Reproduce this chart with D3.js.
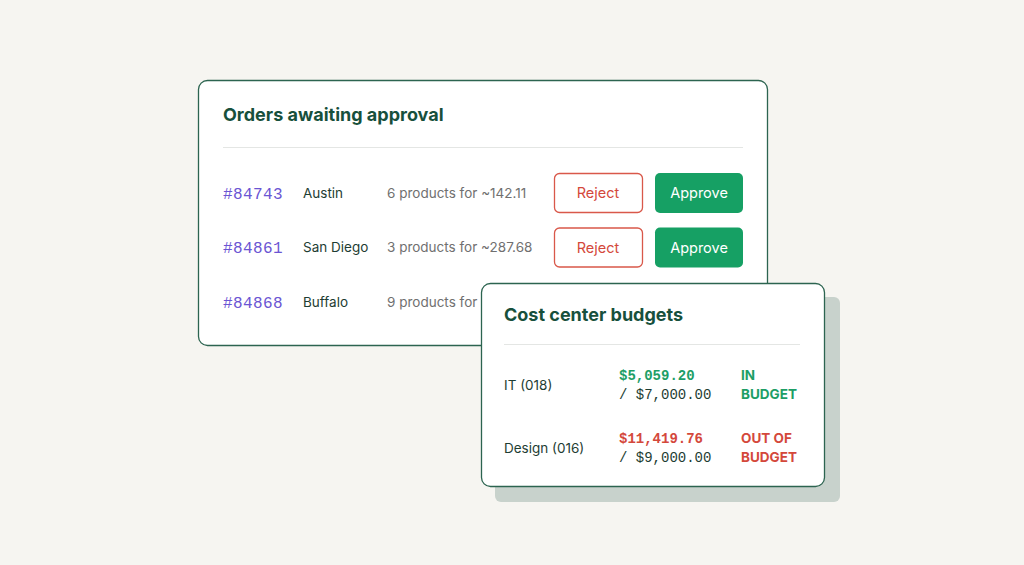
<!DOCTYPE html><html><head><meta charset="utf-8">
<script src="https://cdn.jsdelivr.net/npm/d3@7"></script>
<style>body{margin:0;background:#f6f5f1}svg{display:block}</style></head><body>
<script>
const orderIds=["#84743","#84861","#84868"];
const cities=["Austin","San Diego","Buffalo"];
const descs=["6 products for ~142.11","3 products for ~287.68","9 products for ~301.40"];
const budgetNames=["IT (018)","Design (016)"];
const spent=["$5,059.20","$11,419.76"];
const limits=["/ $7,000.00","/ $9,000.00"];
const status1=["IN","OUT OF"];
const status2=["BUDGET","BUDGET"];
const inBudget=[true,false];

const W=1024,H=565,F="Inter, 'Noto Sans', sans-serif",M="'Liberation Mono','DejaVu Sans Mono',monospace";
const dark="#17503c";
const svg=d3.select("body").append("svg").attr("width",W).attr("height",H);
svg.append("rect").attr("width",W).attr("height",H).attr("fill","#f6f5f1");

// card 1
svg.append("rect").attr("x",198.5).attr("y",80.5).attr("width",569).attr("height",265).attr("rx",9).attr("fill","#fff").attr("stroke","#2c6450").attr("stroke-width",1.3);
svg.append("text").attr("x",223).attr("y",121).text("Orders awaiting approval").attr("font-family",F).attr("font-weight",700).attr("font-size",18).attr("fill",dark);
svg.append("line").attr("x1",223).attr("x2",743).attr("y1",147.5).attr("y2",147.5).attr("stroke","#e4e6e4");
const ry=d3.scalePoint().domain(d3.range(orderIds.length)).range([193,302]);
const rows=svg.selectAll("g.r").data(orderIds).join("g").attr("transform",(d,i)=>`translate(0,${ry(i)})`);
rows.append("text").attr("x",223).attr("dy","0.35em").text(d=>d).attr("font-family",M).attr("font-size",16).attr("letter-spacing",0.4).attr("fill","#6b55d3");
rows.append("text").attr("x",303).attr("dy","0.35em").text((d,i)=>cities[i]).attr("font-family",F).attr("font-size",13.5).attr("fill","#1e3d33");
rows.append("text").attr("x",387).attr("dy","0.35em").text((d,i)=>descs[i]).attr("font-family",F).attr("font-size",13.5).attr("fill","#707070");
const btn=rows.filter((d,i)=>i<2);
btn.append("rect").attr("x",554.5).attr("y",-19.5).attr("width",88).attr("height",39).attr("rx",5).attr("fill","#fff").attr("stroke","#d9584a").attr("stroke-width",1.3);
btn.append("text").attr("x",598).attr("dy","0.35em").attr("text-anchor","middle").text("Reject").attr("font-family",F).attr("font-size",14.5).attr("fill","#d4483b");
btn.append("rect").attr("x",655).attr("y",-20).attr("width",88).attr("height",40).attr("rx",5).attr("fill","#16a064");
btn.append("text").attr("x",699).attr("dy","0.35em").attr("text-anchor","middle").text("Approve").attr("font-family",F).attr("font-size",14.5).attr("fill","#fff");

// card 2
svg.append("rect").attr("x",495).attr("y",297).attr("width",345).attr("height",205).attr("rx",6).attr("fill","#c8d2cc");
svg.append("rect").attr("x",481.5).attr("y",283.5).attr("width",343).attr("height",203).attr("rx",9).attr("fill","#fff").attr("stroke","#2c6450").attr("stroke-width",1.3);
svg.append("text").attr("x",504).attr("y",321).text("Cost center budgets").attr("font-family",F).attr("font-weight",700).attr("font-size",18).attr("fill",dark);
svg.append("line").attr("x1",504).attr("x2",800).attr("y1",344.5).attr("y2",344.5).attr("stroke","#e4e6e4");
const by=d3.scalePoint().domain(d3.range(budgetNames.length)).range([385,448]);
const b=svg.selectAll("g.b").data(budgetNames).join("g").attr("transform",(d,i)=>`translate(0,${by(i)})`);
const col=i=>inBudget[i]?"#1d9e66":"#d4483b";
b.append("text").attr("x",504).attr("dy","0.35em").text(d=>d).attr("font-family",F).attr("font-size",13.5).attr("fill","#1e3d33");
b.append("text").attr("x",619).attr("y",-10).attr("dy","0.35em").text((d,i)=>spent[i]).attr("font-family",M).attr("font-weight",700).attr("font-size",14).attr("fill",(d,i)=>col(i));
b.append("text").attr("x",619).attr("y",9).attr("dy","0.35em").text((d,i)=>limits[i]).attr("font-family",M).attr("font-size",14).attr("fill","#1e3d33");
b.append("text").attr("x",741).attr("y",-10).attr("dy","0.35em").text((d,i)=>status1[i]).attr("font-family",F).attr("font-weight",700).attr("font-size",13.5).attr("fill",(d,i)=>col(i));
b.append("text").attr("x",741).attr("y",9).attr("dy","0.35em").text((d,i)=>status2[i]).attr("font-family",F).attr("font-weight",700).attr("font-size",13.5).attr("fill",(d,i)=>col(i));
</script></body></html>
